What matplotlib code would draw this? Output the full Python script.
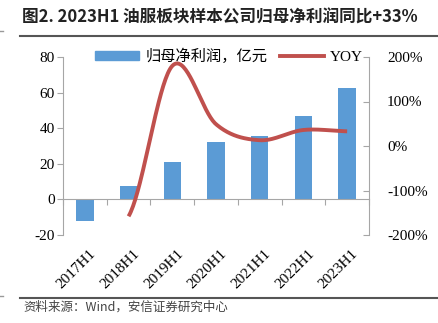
import numpy as np
import matplotlib
matplotlib.use('Agg')
from matplotlib import pyplot as plt
from matplotlib.lines import Line2D
from matplotlib.patches import Patch
import matplotlib.transforms as mtransforms

periods = ['2017H1', '2018H1', '2019H1', '2020H1', '2021H1', '2022H1', '2023H1']
profit = [-12.0, 7.5, 21.0, 32.0, 35.5, 47.0, 62.5]   # 归母净利润, 亿元
yoy = [None, -158.0, 180.0, 49.0, 13.0, 36.0, 33.0]     # %

BAR_C = '#5B9BD5'
LINE_C = '#C0504D'
AX_C = '#A6A6A6'
CJK = ['Noto Sans CJK SC', 'DejaVu Sans']
SERIF = ['Liberation Serif', 'Noto Sans CJK SC']

plt.rcParams['font.family'] = SERIF
plt.rcParams['axes.unicode_minus'] = False


def smooth(xs, ys, n=40):
    # catmull-rom style smoothing, like excel's smoothed line
    xs = np.asarray(xs, float)
    ys = np.asarray(ys, float)
    px, py = [], []
    for i in range(len(xs) - 1):
        y0 = ys[i - 1] if i > 0 else ys[i]
        y3 = ys[i + 2] if i + 2 < len(ys) else ys[i + 1]
        m1 = (ys[i + 1] - y0) / 2
        m2 = (y3 - ys[i]) / 2
        t = np.linspace(0, 1, n)
        h00 = 2 * t**3 - 3 * t**2 + 1
        h10 = t**3 - 2 * t**2 + t
        h01 = -2 * t**3 + 3 * t**2
        h11 = t**3 - t**2
        px.append(xs[i] + t * (xs[i + 1] - xs[i]))
        py.append(h00 * ys[i] + h10 * m1 + h01 * ys[i + 1] + h11 * m2)
    return np.concatenate(px), np.concatenate(py)


fig = plt.figure(figsize=(4.38, 3.23), dpi=100)
ax = fig.add_axes([63 / 438, 1 - 235 / 323, 306 / 438, 178 / 323])
ax2 = ax.twinx()

x = np.arange(len(periods))
ax.bar(x, profit, width=0.4, color=BAR_C, zorder=2)
ax.set_xlim(-0.5, len(periods) - 0.5)
ax.set_ylim(-20, 80)
ax.set_yticks([-20, 0, 20, 40, 60, 80])

# category axis sits on the zero line, ticks at the boundaries
ax.spines['bottom'].set_position(('data', 0))
ax.spines['bottom'].set_color(AX_C)
ax.set_xticks(np.arange(-0.5, len(periods)), labels=[''] * (len(periods) + 1))
ax.tick_params(axis='x', direction='out', length=4, color=AX_C)
trans = mtransforms.blended_transform_factory(ax.transData, ax.transAxes)
for i, p in enumerate(periods):
    ax.text(i + 0.1, -0.07, p, transform=trans, rotation=45, ha='right', va='top',
            rotation_mode='anchor', fontsize=11)

ax.spines['top'].set_visible(False)
ax.spines['right'].set_visible(False)
ax.spines['left'].set_color(AX_C)
ax.tick_params(axis='y', direction='out', length=4, color=AX_C, labelsize=11, pad=2)

xs = [i for i, v in enumerate(yoy) if v is not None]
ys = [v for v in yoy if v is not None]
sx, sy = smooth(xs, ys)
ax2.plot(sx, sy, color=LINE_C, lw=2.8, solid_capstyle='butt', zorder=3)
ax2.set_ylim(-200, 200)
ax2.set_yticks([-200, -100, 0, 100, 200])
ax2.set_yticklabels(['-200%', '-100%', '0%', '100%', '200%'])
ax2.tick_params(axis='y', direction='in', length=4, color=AX_C, labelsize=11, pad=13)
for s in ['top', 'left', 'bottom']:
    ax2.spines[s].set_visible(False)
ax2.spines['right'].set_color(AX_C)

handles = [Patch(color=BAR_C), Line2D([], [], color=LINE_C, lw=2.8)]
fig.legend(handles, ['归母净利润，亿元', 'YOY'], loc='center left', bbox_to_anchor=(95 / 438, 1 - 56 / 323),
           ncol=2, frameon=False, prop={'family': SERIF, 'size': 11}, handlelength=2.9,
           handleheight=0.5, columnspacing=0.8, handletextpad=0.4, borderaxespad=0, borderpad=0)

fig.text(22 / 438, 1 - 17 / 323, '图2. 2023H1 油服板块样本公司归母净利润同比+33%', fontsize=12,
         fontweight='bold', family=CJK, va='center', ha='left', color='#222222')
fig.add_artist(Line2D([20 / 438, 1], [1 - 36 / 323] * 2, color='#555555', lw=1.5))
fig.add_artist(Line2D([20 / 438, 1], [1 - 298 / 323] * 2, color='#555555', lw=1.5))
fig.add_artist(Line2D([0, 3 / 438], [1 - 31 / 323] * 2, color='#999999', lw=1))
fig.add_artist(Line2D([0, 3 / 438], [1 - 296 / 323] * 2, color='#999999', lw=1))
fig.text(23 / 438, 1 - 307 / 323, '资料来源：Wind，安信证券研究中心', fontsize=9, style='italic',
         family=CJK, va='center', ha='left', color='#444444')

fig.savefig('out.png', dpi=100)
